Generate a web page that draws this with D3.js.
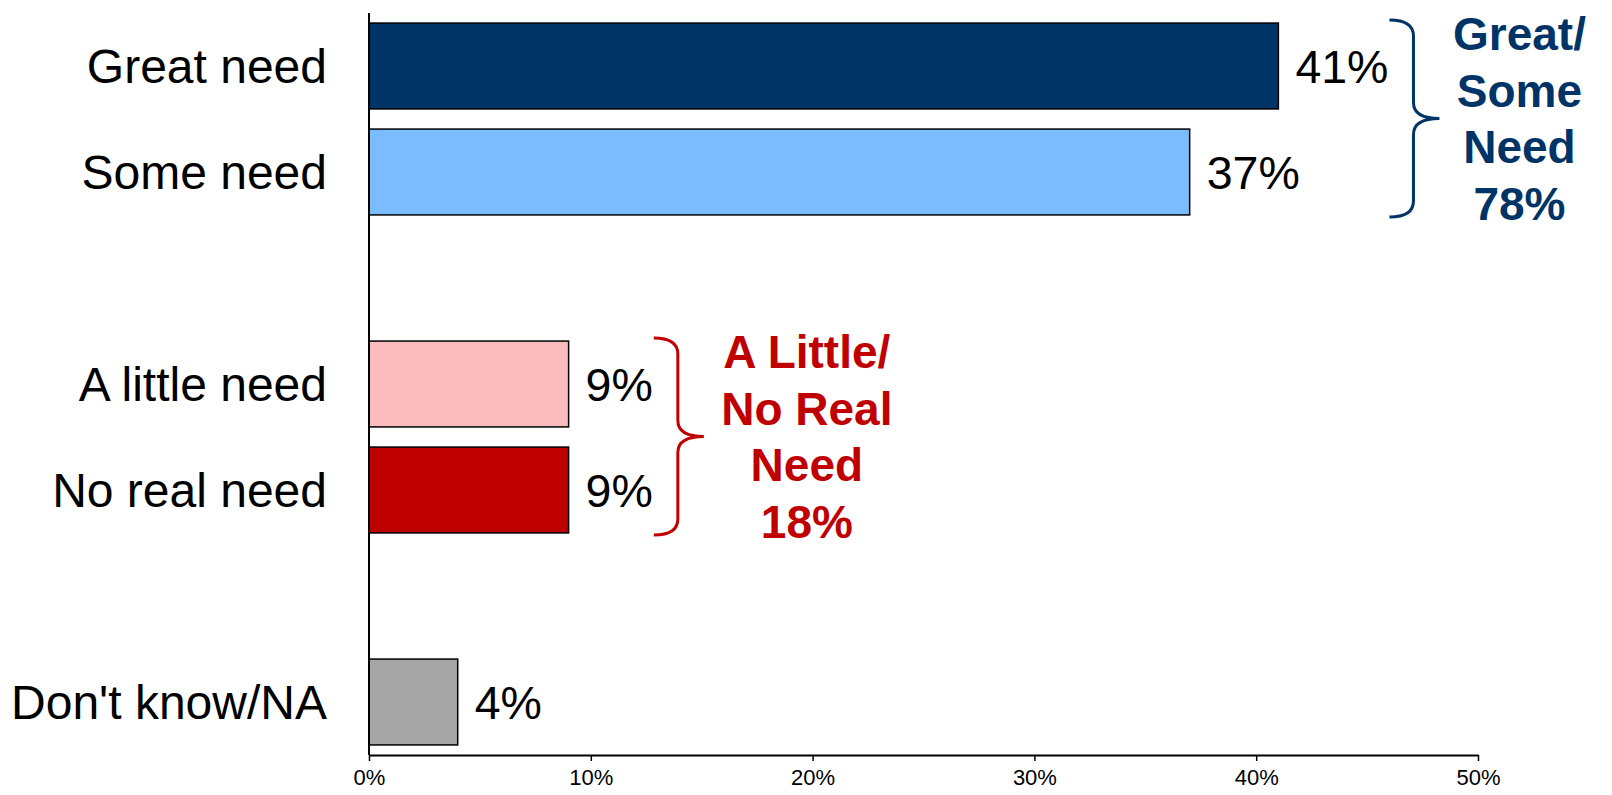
<!DOCTYPE html>
<html><head><meta charset="utf-8">
<script src="https://cdn.jsdelivr.net/npm/d3@7"></script>
<style>body{margin:0;background:#fff}svg{display:block}text{font-family:"Liberation Sans",Arial,sans-serif}</style>
</head><body>
<script>
const slots = ["Great need","Some need","_gap1","A little need","No real need","_gap2","Don't know/NA"];
const categories = ["Great need","Some need","A little need","No real need","Don't know/NA"];
const values = [41, 37, 9, 9, 4];
const colors = ["#003366","#7BBCFF","#FBBCBD","#BE0000","#A6A6A6"];
const ticks = [0,10,20,30,40,50];
const groups = [
  {lines:["Great/","Some","Need","78%"], from:"Great need", to:"Some need", color:"#003366", dx:80},
  {lines:["A Little/","No Real","Need","18%"], from:"A little need", to:"No real need", color:"#C00000", dx:103}
];

const W=1612,H=795;
const svg=d3.select("body").append("svg").attr("width",W).attr("height",H);
const x=d3.scaleLinear().domain([0,50]).range([369,1478]);
const y=d3.scaleBand().domain(slots).range([13,755]).paddingInner(0.19).paddingOuter(0.095);

// bars
svg.selectAll("rect.bar").data(categories).enter().append("rect")
  .attr("x",x(0)).attr("y",d=>y(d))
  .attr("width",(d,i)=>x(values[i])-x(0)).attr("height",y.bandwidth())
  .attr("fill",(d,i)=>colors[i]).attr("stroke","#000").attr("stroke-width",1.5);

// axes
const xa=svg.append("g").attr("transform",`translate(0,755)`)
  .call(d3.axisBottom(x).tickValues(ticks).tickFormat(d=>d+"%").tickSize(6).tickSizeOuter(0));
xa.select(".domain").attr("stroke","#000").attr("stroke-width",2);
xa.selectAll(".tick line").attr("stroke","#000").attr("stroke-width",1.5);
xa.selectAll(".tick text").attr("font-size",22).attr("fill","#000").attr("y",14).attr("dy","0.71em")
  .style("font-family","'Liberation Sans',Arial,sans-serif");
svg.append("line").attr("x1",x(0)).attr("x2",x(0)).attr("y1",13).attr("y2",755).attr("stroke","#000").attr("stroke-width",2);

// category labels
svg.selectAll("text.cat").data(categories).enter().append("text")
  .attr("x",327).attr("y",d=>y(d)+y.bandwidth()/2+17)
  .attr("text-anchor","end").attr("font-size",48).attr("fill","#000").text(d=>d);

// value labels
const vl=svg.selectAll("text.val").data(categories).enter().append("text")
  .attr("x",(d,i)=>x(values[i])+17).attr("y",d=>y(d)+y.bandwidth()/2+17)
  .attr("font-size",46.5).attr("fill","#000").text((d,i)=>values[i]+"%");
const labelEnd={};
vl.each(function(d){labelEnd[d]=this.getBBox().x+this.getBBox().width;});

// braces + group labels
groups.forEach(g=>{
  const top=y(g.from)-3, bot=y(g.to)+y.bandwidth()+2, mid=(top+bot)/2;
  const x0=Math.max(labelEnd[g.from],labelEnd[g.to])+1;
  const xs=x0+24, xt=x0+50, r=16;
  const p=`M${x0},${top} Q${xs},${top} ${xs},${top+r} L${xs},${mid-r} Q${xs},${mid} ${xt},${mid} Q${xs},${mid} ${xs},${mid+r} L${xs},${bot-r} Q${xs},${bot} ${x0},${bot}`;
  svg.append("path").attr("d",p).attr("fill","none").attr("stroke",g.color).attr("stroke-width",3);
  const cx=xt+g.dx;
  const t=svg.append("text").attr("text-anchor","middle").attr("font-size",46).attr("font-weight","bold").attr("fill",g.color);
  g.lines.forEach((l,i)=>t.append("tspan").attr("x",cx).attr("y",top+30+i*56.5).text(l));
});
</script>
</body></html>
